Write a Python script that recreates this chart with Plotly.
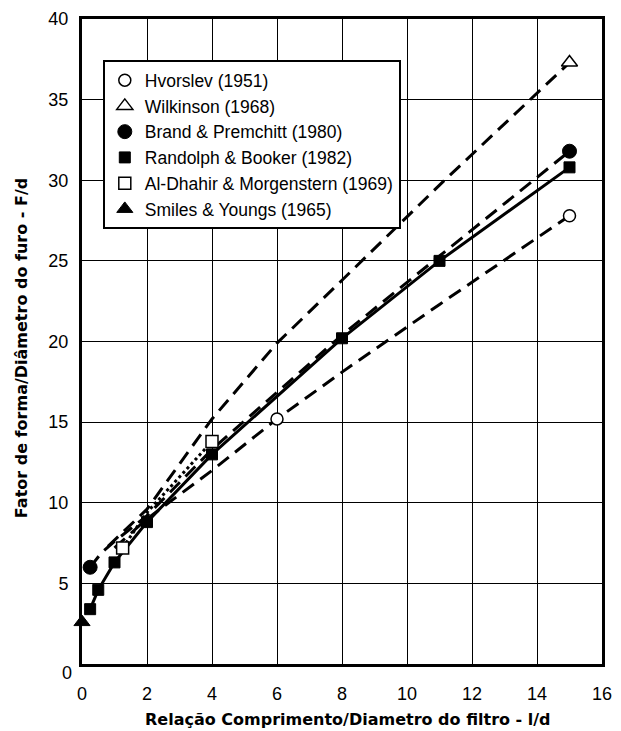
import plotly.graph_objects as go

# ---- data ----
# Hvorslev (1951)
hv_line_x = [1, 2, 4, 6, 8, 11, 15]
hv_line_y = [7.2, 9.0, 12.0, 15.2, 18.1, 22.3, 27.8]
hv_pts_x = [6, 15]
hv_pts_y = [15.2, 27.8]

# Wilkinson (1968)
wk_line_x = [0.8, 2, 4, 6, 8, 11, 15]
wk_line_y = [7.3, 9.6, 15.2, 19.9, 23.8, 29.7, 37.3]
wk_pts_x = [15]
wk_pts_y = [37.3]

# Brand & Premchitt (1980)
bp_line_x = [0.25, 0.6, 1, 2, 4, 8, 11, 15]
bp_line_y = [6.0, 6.9, 7.6, 9.2, 13.3, 20.4, 25.3, 31.8]
bp_pts_x = [0.25, 15]
bp_pts_y = [6.0, 31.8]

# Randolph & Booker (1982)
rb_x = [0.25, 0.5, 1, 2, 4, 8, 11, 15]
rb_y = [3.4, 4.6, 6.3, 8.8, 13.0, 20.2, 25.0, 30.8]

# Al-Dhahir & Morgenstern (1969)
ad_line_x = [1.25, 2, 3, 4]
ad_line_y = [7.2, 9.4, 11.6, 13.8]
ad_pts_x = [1.25, 4]
ad_pts_y = [7.2, 13.8]

# Smiles & Youngs (1965)
sy_x = [0]
sy_y = [2.6]

x_ticks = [0, 2, 4, 6, 8, 10, 12, 14, 16]
y_ticks = [5, 10, 15, 20, 25, 30, 35, 40]

names = ["Hvorslev (1951)", "Wilkinson (1968)", "Brand & Premchitt (1980)",
         "Randolph & Booker (1982)", "Al-Dhahir & Morgenstern (1969)",
         "Smiles & Youngs (1965)"]

DASH = "14px,8px"
fig = go.Figure()

# lines (no legend)
for lx, ly, dash in [(hv_line_x, hv_line_y, DASH), (wk_line_x, wk_line_y, DASH),
                     (bp_line_x, bp_line_y, DASH), (rb_x, rb_y, "solid"),
                     (ad_line_x, ad_line_y, "dot")]:
    fig.add_trace(go.Scatter(x=lx, y=ly, mode="lines", showlegend=False,
                             line=dict(color="black", width=3, dash=dash),
                             hoverinfo="skip", cliponaxis=False))

# markers (legend)
fig.add_trace(go.Scatter(x=hv_pts_x, y=hv_pts_y, mode="markers", name=names[0],
                         marker=dict(symbol="circle", size=12, color="white",
                                     line=dict(color="black", width=1.5)), cliponaxis=False))
fig.add_trace(go.Scatter(x=wk_pts_x, y=wk_pts_y, mode="markers", name=names[1],
                         marker=dict(symbol="triangle-up", size=14, color="white",
                                     line=dict(color="black", width=1.5)), cliponaxis=False))
fig.add_trace(go.Scatter(x=bp_pts_x, y=bp_pts_y, mode="markers", name=names[2],
                         marker=dict(symbol="circle", size=14, color="black",
                                     line=dict(color="black", width=1)), cliponaxis=False))
fig.add_trace(go.Scatter(x=rb_x, y=rb_y, mode="markers", name=names[3],
                         marker=dict(symbol="square", size=11, color="black",
                                     line=dict(color="black", width=1)), cliponaxis=False))
fig.add_trace(go.Scatter(x=ad_pts_x, y=ad_pts_y, mode="markers", name=names[4],
                         marker=dict(symbol="square", size=12, color="white",
                                     line=dict(color="black", width=1.5)), cliponaxis=False))
fig.add_trace(go.Scatter(x=sy_x, y=sy_y, mode="markers", name=names[5],
                         marker=dict(symbol="triangle-up", size=14, color="black",
                                     line=dict(color="black", width=1)), cliponaxis=False))

fig.update_layout(
    width=613, height=723,
    margin=dict(l=74, r=19, t=11, b=67, autoexpand=False),
    paper_bgcolor="white", plot_bgcolor="white",
    font=dict(family="Liberation Sans, Arial, sans-serif", color="black"),
    legend=dict(x=0.04, y=0.936, xanchor="left", yanchor="top",
                bgcolor="white", bordercolor="black", borderwidth=2,
                font=dict(size=17.5, family="Liberation Sans, Arial, sans-serif"),
                itemwidth=30, tracegroupgap=0),
    xaxis=dict(range=[0, 16], tickvals=x_ticks, ticktext=[str(v) for v in x_ticks],
               showgrid=True, gridcolor="black", gridwidth=1.2,
               showline=True, linecolor="black", linewidth=3, mirror=True,
               zeroline=False, ticks="", ticklabelstandoff=11,
               ticklabeloverflow="allow",
               tickfont=dict(size=18), automargin=False),
    yaxis=dict(range=[0, 40], tickvals=y_ticks, ticktext=[str(v) for v in y_ticks],
               showgrid=True, gridcolor="black", gridwidth=1.2,
               showline=True, linecolor="black", linewidth=3, mirror=True,
               zeroline=False, ticks="", ticklabelstandoff=7,
               ticklabeloverflow="allow",
               tickfont=dict(size=18), automargin=False),
    annotations=[
        dict(text="0", xref="paper", yref="paper", x=-0.015, y=-0.014,
             xanchor="right", yanchor="middle", showarrow=False,
             font=dict(size=18, family="Liberation Sans, Arial, sans-serif")),
        dict(text="Relação Comprimento/Diametro do filtro - l/d", xref="paper", yref="paper",
             x=0.512, y=-0.0868, xanchor="center", yanchor="middle", showarrow=False,
             font=dict(size=16, family="DejaVu Sans", weight="bold")),
        dict(text="Fator de forma/Diâmetro do furo - F/d", xref="paper", yref="paper",
             x=-0.115, y=0.49, xanchor="center", yanchor="middle", showarrow=False,
             textangle=-90,
             font=dict(size=16, family="DejaVu Sans", weight="bold")),
    ],
)

fig.write_html("out.html")
